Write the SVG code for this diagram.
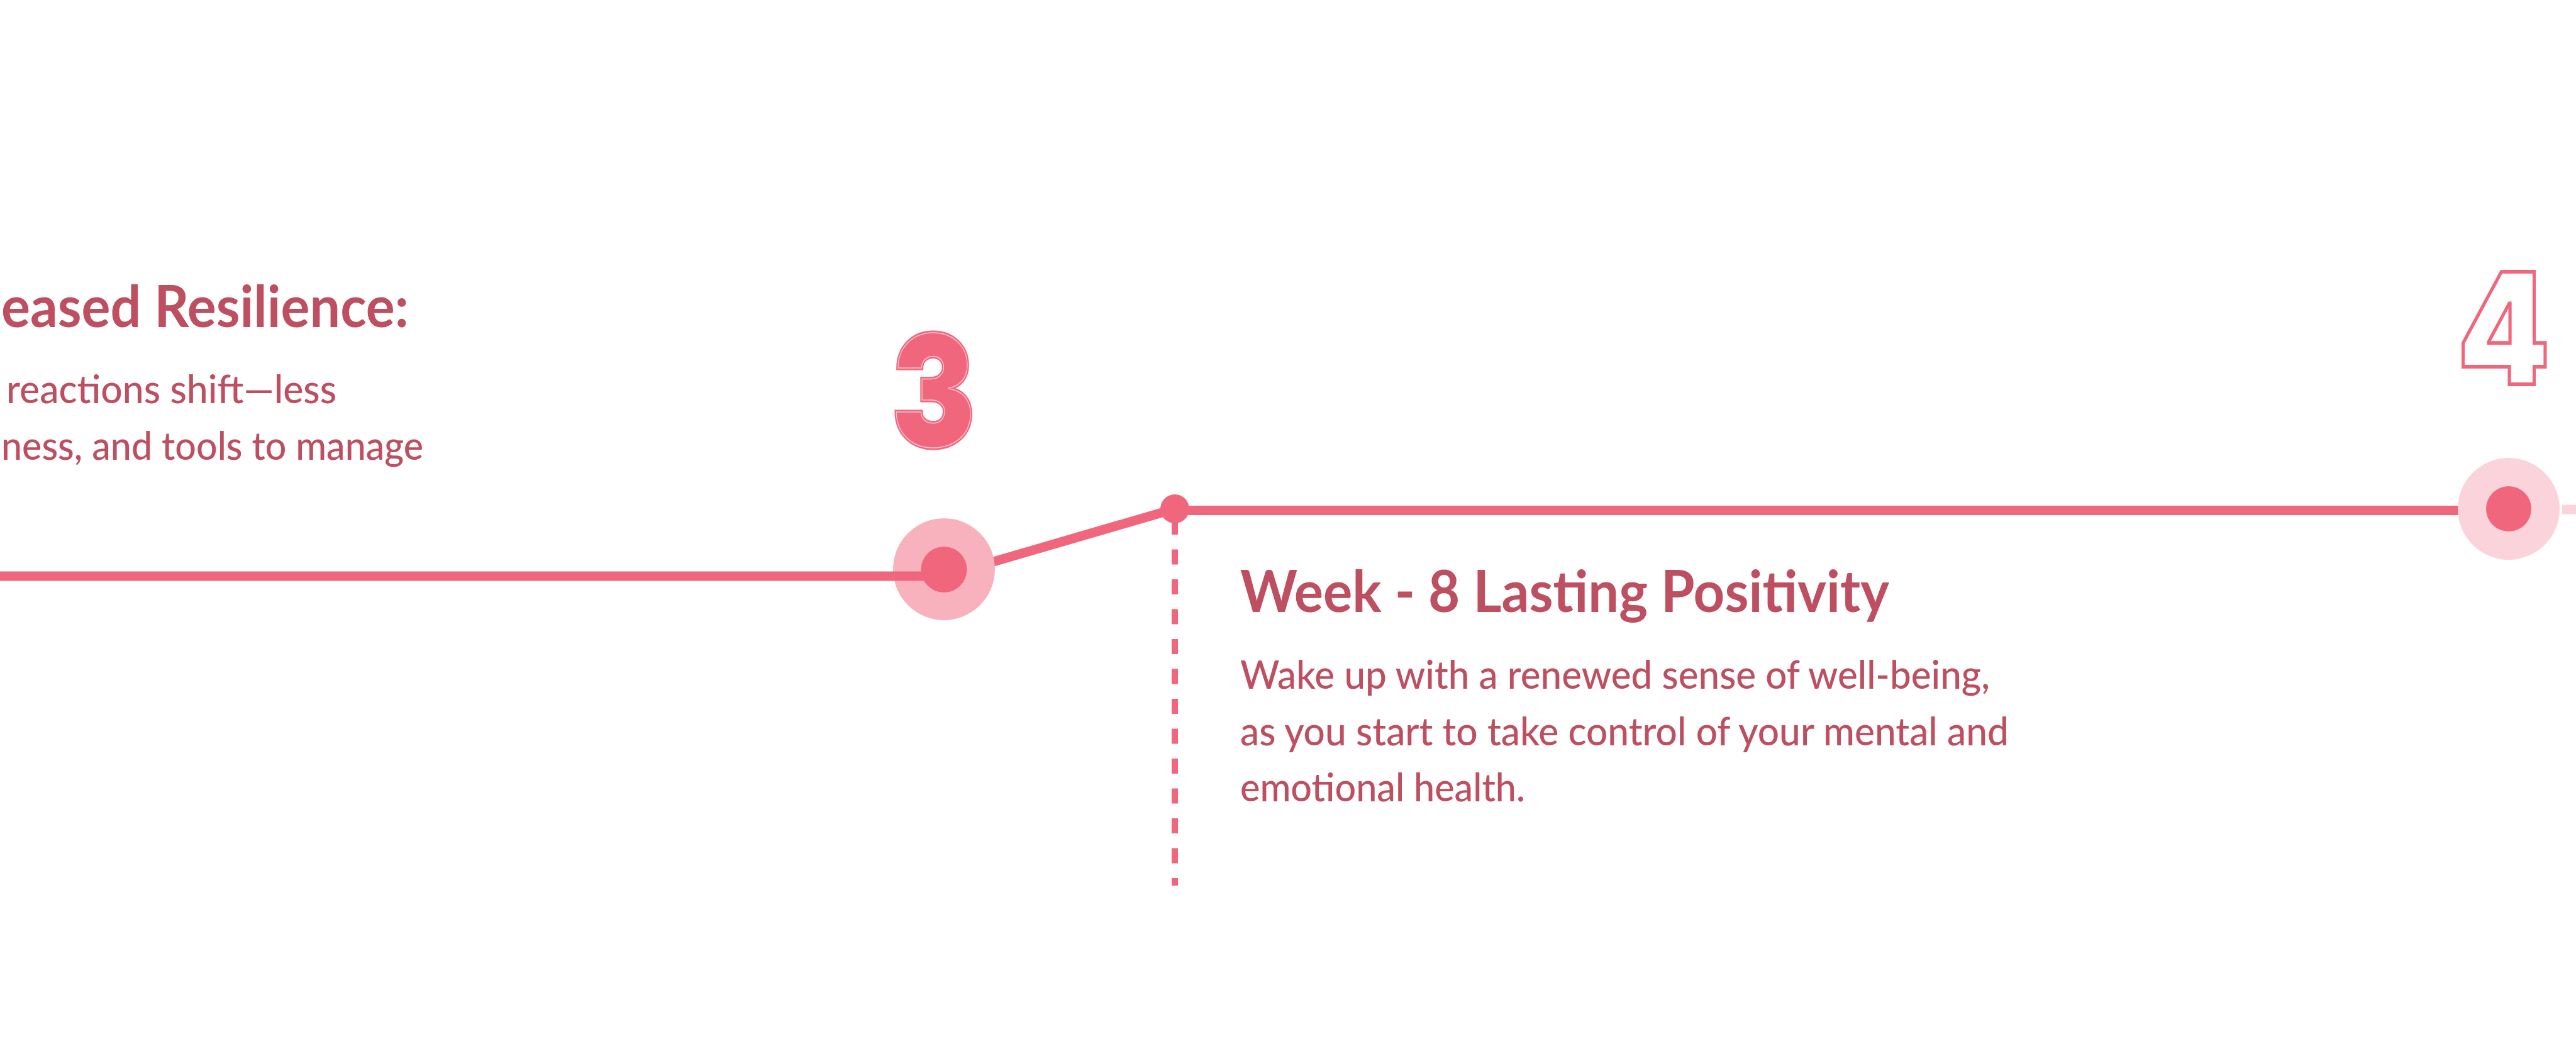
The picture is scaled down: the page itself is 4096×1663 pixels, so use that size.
<svg xmlns="http://www.w3.org/2000/svg" width="4096" height="1663" viewBox="0 0 4096 1663">
  <style>
    .title { font-family: "Lato", "Noto Sans", sans-serif; font-weight: 700; font-size: 92px; fill: #bd4f60; }
    .body { font-family: "Lato", "Noto Sans", sans-serif; font-weight: 500; font-size: 62px; fill: #bd4f60; }
    .num { font-family: "Inter", "Open Sans", sans-serif; font-weight: 900; font-size: 246px; }
    .line { stroke: #f0667d; stroke-width: 15; fill: none; }
  </style>
  <rect x="0" y="0" width="4096" height="1663" fill="#ffffff"/>

  <g id="connectors">
    <line class="line" x1="1501" y1="916" x2="1868" y2="809"/>
    <line class="line" x1="1868" y1="811.5" x2="3989" y2="811.5"/>
    <line x1="1868" y1="826" x2="1868" y2="1408" stroke="#f0667d" stroke-width="10" stroke-dasharray="24 23.5"/>
    <line x1="4074" y1="810" x2="4100" y2="810" stroke="#fad4da" stroke-width="15"/>
  </g>

  <g id="node-3">
    <circle cx="1501" cy="905" r="81" fill="#f7b2bd"/>
    <line class="line" x1="0" y1="916" x2="1501" y2="916"/>
    <circle cx="1501" cy="905.5" r="36.5" fill="#f0667d"/>
    <text class="num" x="1484" y="710" text-anchor="middle" textLength="132" lengthAdjust="spacingAndGlyphs" fill="#f0667d" stroke="#f0667d" stroke-width="7" stroke-linejoin="miter">3</text>
    <text class="num" x="1484" y="710" text-anchor="middle" textLength="132" lengthAdjust="spacingAndGlyphs" fill="#f0667d" stroke="#f9c3cc" stroke-width="1.5" stroke-linejoin="miter">3</text>
  </g>

  <g id="node-week8-dot">
    <circle cx="1868" cy="809" r="23" fill="#f0667d"/>
  </g>

  <g id="node-4">
    <circle cx="3989" cy="809" r="81" fill="#fad4da"/>
    <circle cx="3989" cy="809" r="36" fill="#f0667d"/>
    <text class="num" x="3981" y="611" text-anchor="middle" textLength="146" lengthAdjust="spacingAndGlyphs" fill="#ffffff" stroke="#f0667d" stroke-width="6" stroke-linejoin="miter">4</text>
  </g>

  <g id="text-resilience">
    <text class="title" x="2" y="520" textLength="648" lengthAdjust="spacingAndGlyphs">eased Resilience:</text>
    <text class="body" x="10" y="641" textLength="525" lengthAdjust="spacingAndGlyphs">reactions shift—less</text>
    <text class="body" x="2" y="731" textLength="671" lengthAdjust="spacingAndGlyphs">ness, and tools to manage</text>
  </g>

  <g id="text-week8">
    <text class="title" x="1972" y="973" textLength="1032" lengthAdjust="spacingAndGlyphs">Week - 8 Lasting Positivity</text>
    <text class="body" x="1972" y="1095" textLength="1192" lengthAdjust="spacingAndGlyphs">Wake up with a renewed sense of well-being,</text>
    <text class="body" x="1972" y="1185" textLength="1222" lengthAdjust="spacingAndGlyphs">as you start to take control of your mental and</text>
    <text class="body" x="1972" y="1274" textLength="453" lengthAdjust="spacingAndGlyphs">emotional health.</text>
  </g>
</svg>
